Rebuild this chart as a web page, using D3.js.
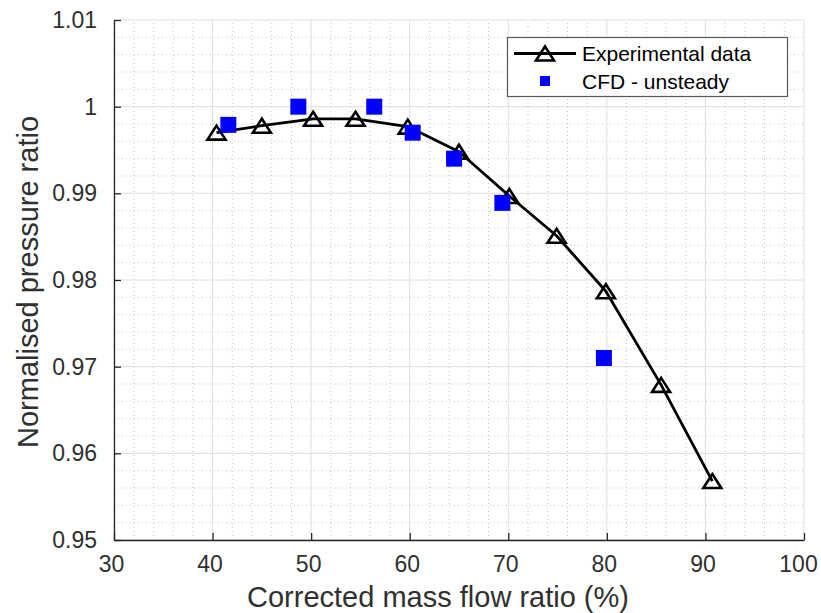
<!DOCTYPE html>
<html>
<head>
<meta charset="utf-8">
<script src="https://cdn.jsdelivr.net/npm/d3@7"></script>
<style>
  body { margin: 0; background: #fff; }
  text { font-family: "Liberation Sans", Arial, sans-serif; fill: #262626; }
</style>
</head>
<body>
<div id="chart"></div>
<script>
// experimental curve
var expFlow = [40.4, 45.0, 50.2, 54.5, 59.8, 65.0, 70.1, 74.9, 79.9, 85.5, 90.7];
var expRatio = [0.9970, 0.9978, 0.9986, 0.9986, 0.9977, 0.9948, 0.9897, 0.9851, 0.9787, 0.9679, 0.9568];

// CFD unsteady points
var cfdFlow = [41.6, 48.7, 56.4, 60.3, 64.5, 69.4, 79.7];
var cfdRatio = [0.9979, 1.0000, 1.0000, 0.9970, 0.9940, 0.9889, 0.9710];

var xTicks = [30, 40, 50, 60, 70, 80, 90, 100];
var yTicks = [0.95, 0.96, 0.97, 0.98, 0.99, 1.00, 1.01];
var yTickLabels = ["0.95", "0.96", "0.97", "0.98", "0.99", "1", "1.01"];
var seriesNames = ["Experimental data", "CFD - unsteady"];

var width = 821, height = 613;
var margin = {top: 20, right: 17, bottom: 73, left: 114};

var svg = d3.select("#chart").append("svg")
  .attr("width", width)
  .attr("height", height);

var x = d3.scaleLinear().domain([30, 100]).range([margin.left, width - margin.right]);
var y = d3.scaleLinear().domain([0.95, 1.01]).range([height - margin.bottom, margin.top]);

// minor grid (dotted)
var minorX = d3.range(32, 100, 2).filter(function(v){ return v % 10 !== 0; });
var minorY = d3.range(0, 30).map(function(i){ return 0.95 + i * 0.002; })
  .filter(function(v, i){ return i % 5 !== 0; });

var grid = svg.append("g");
grid.selectAll(".mx").data(minorX).enter().append("line")
  .attr("x1", function(d){ return x(d); }).attr("x2", function(d){ return x(d); })
  .attr("y1", y(0.95)).attr("y2", y(1.01))
  .style("stroke", "#c4c4c4").style("stroke-dasharray", "1,3");
grid.selectAll(".my").data(minorY).enter().append("line")
  .attr("y1", function(d){ return y(d); }).attr("y2", function(d){ return y(d); })
  .attr("x1", x(30)).attr("x2", x(100))
  .style("stroke", "#c4c4c4").style("stroke-dasharray", "1,3");

// major grid
grid.selectAll(".gx").data(xTicks).enter().append("line")
  .attr("x1", function(d){ return x(d); }).attr("x2", function(d){ return x(d); })
  .attr("y1", y(0.95)).attr("y2", y(1.01))
  .style("stroke", "#dedede");
grid.selectAll(".gy").data(yTicks).enter().append("line")
  .attr("y1", function(d){ return y(d); }).attr("y2", function(d){ return y(d); })
  .attr("x1", x(30)).attr("x2", x(100))
  .style("stroke", "#dedede");

// axes
var xAxis = svg.append("g")
  .attr("transform", "translate(0," + y(0.95) + ")")
  .call(d3.axisBottom(x).tickValues(xTicks).tickSizeInner(-7).tickSizeOuter(0).tickPadding(16));
var yAxis = svg.append("g")
  .attr("transform", "translate(" + x(30) + ",0)")
  .call(d3.axisLeft(y).tickValues(yTicks).tickSizeInner(-7).tickSizeOuter(0).tickPadding(17)
    .tickFormat(function(d, i){ return yTickLabels[i]; }));

[xAxis, yAxis].forEach(function(a){
  a.select(".domain").style("stroke", "#262626").style("stroke-width", 1.3);
  a.selectAll(".tick line").style("stroke", "#262626").style("stroke-width", 1.3);
  a.selectAll(".tick text").style("font-size", "23px").style("fill", "#303030")
    .style("font-family", "'Liberation Sans', Arial, sans-serif");
});
xAxis.selectAll(".tick text").attr("dx", -3);
xAxis.selectAll(".tick:last-of-type text").attr("dx", -6);

// axis labels
svg.append("text")
  .attr("x", 438)
  .attr("y", 607)
  .attr("text-anchor", "middle")
  .style("font-size", "29px")
  .style("fill", "#303030")
  .text("Corrected mass flow ratio (%)");

svg.append("text")
  .attr("transform", "translate(38,282) rotate(-90)")
  .attr("text-anchor", "middle")
  .style("font-size", "29px")
  .style("fill", "#303030")
  .text("Normalised pressure ratio");

// experimental line
var expData = expFlow.map(function(f, i){ return {x: f, y: expRatio[i]}; });
var cfdData = cfdFlow.map(function(f, i){ return {x: f, y: cfdRatio[i]}; });

var line = d3.line()
  .x(function(d){ return x(d.x); })
  .y(function(d){ return y(d.y); });

svg.append("path")
  .datum(expData)
  .attr("d", line)
  .style("fill", "none")
  .style("stroke", "#000")
  .style("stroke-width", 2.8)
  .style("stroke-linejoin", "round");

var tri = "M0,-7L9,7L-9,7Z";

svg.selectAll(".tri").data(expData).enter().append("path")
  .attr("d", tri)
  .attr("transform", function(d){ return "translate(" + x(d.x) + "," + y(d.y) + ")"; })
  .style("fill", "none")
  .style("stroke", "#000")
  .style("stroke-width", 2.6);

svg.selectAll(".sq").data(cfdData).enter().append("rect")
  .attr("x", function(d){ return x(d.x) - 8; })
  .attr("y", function(d){ return y(d.y) - 8; })
  .attr("width", 16)
  .attr("height", 16)
  .style("fill", "#0000ff");

// legend
var lg = svg.append("g");
lg.append("rect")
  .attr("x", 507.5).attr("y", 37.5).attr("width", 280).attr("height", 59)
  .style("fill", "#fff").style("stroke", "#595959").style("stroke-width", 1.2);
lg.append("line")
  .attr("x1", 514).attr("x2", 576).attr("y1", 53.5).attr("y2", 53.5)
  .style("stroke", "#000").style("stroke-width", 2.8);
lg.append("path")
  .attr("d", tri)
  .attr("transform", "translate(545,53.5)")
  .style("fill", "none").style("stroke", "#000").style("stroke-width", 2.6);
lg.append("rect")
  .attr("x", 540).attr("y", 76).attr("width", 10).attr("height", 10)
  .style("fill", "#0000ff");
lg.selectAll(".lt").data(seriesNames).enter().append("text")
  .attr("x", 582)
  .attr("y", function(d, i){ return 61 + i * 27.5; })
  .style("font-size", "21px")
  .style("fill", "#000")
  .text(function(d){ return d; });
</script>
</body>
</html>
